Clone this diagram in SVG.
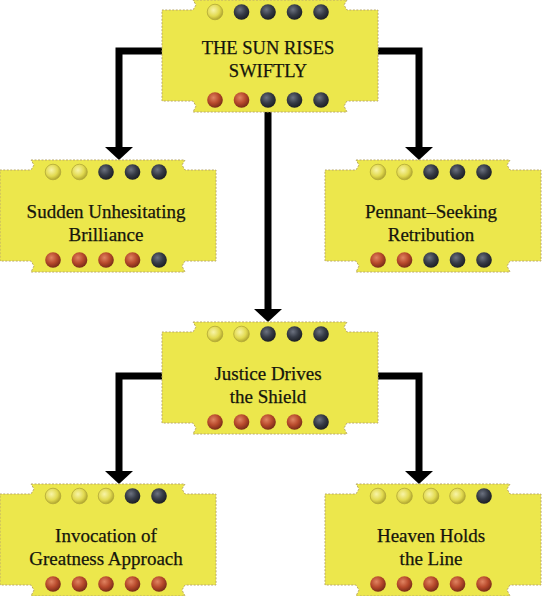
<svg xmlns="http://www.w3.org/2000/svg" xmlns:xlink="http://www.w3.org/1999/xlink" width="543" height="596" viewBox="0 0 543 596">
<style>
.shape{fill:#ece74c;stroke:#b9a86a;stroke-width:1;stroke-dasharray:2 1.5}
.lbl{font-family:"Liberation Serif","Times New Roman",serif;font-size:19px;fill:#15150c;text-anchor:middle;stroke:#15150c;stroke-width:0.25}
.cap{font-size:18.5px}
.conn{fill:none;stroke:#000;stroke-width:7;stroke-linejoin:miter}
</style>
<defs>
<radialGradient id="gy" cx="0.4" cy="0.38" r="0.65">
<stop offset="0" stop-color="#f8f4a8"/><stop offset="0.6" stop-color="#e2da50"/><stop offset="1" stop-color="#aca22c"/>
</radialGradient>
<radialGradient id="gd" cx="0.4" cy="0.35" r="0.65">
<stop offset="0" stop-color="#6c7280"/><stop offset="0.55" stop-color="#363b46"/><stop offset="1" stop-color="#1c1f25"/>
</radialGradient>
<radialGradient id="gr" cx="0.4" cy="0.35" r="0.65">
<stop offset="0" stop-color="#e08462"/><stop offset="0.55" stop-color="#b84a2c"/><stop offset="1" stop-color="#7a2c18"/>
</radialGradient>
<circle id="dy" r="7.8" fill="url(#gy)" stroke="#b2a838" stroke-width="0.8"/>
<circle id="dd" r="7.8" fill="url(#gd)"/>
<circle id="dr" r="7.8" fill="url(#gr)"/>
<path id="body" d="M31,0 L185,0 L182,5 L185,10 L216,10 L216,101 L185,101 L182,106 L185,112 L31,112 L34,106 L31,101 L0,101 L0,10 L31,10 L34,5 Z"/>
</defs>

<g id="connectors">
<path class="conn" d="M163,51 H119 V148"/>
<polygon points="105,147 133,147 119,160"/>
<path class="conn" d="M377,51 H419 V148"/>
<polygon points="405,147 433,147 419,160"/>
<path class="conn" d="M268,110 V310"/>
<polygon points="254,309 282,309 268,322"/>
<path class="conn" d="M163,376 H119 V472"/>
<polygon points="105,471 133,471 119,484"/>
<path class="conn" d="M377,376 H419 V472"/>
<polygon points="405,471 433,471 419,484"/>
</g>

<g id="n_top" transform="translate(162,0)">
<use xlink:href="#body" class="shape"/>
<use xlink:href="#dy" x="53" y="12"/><use xlink:href="#dd" x="79.5" y="12"/><use xlink:href="#dd" x="106" y="12"/><use xlink:href="#dd" x="132.5" y="12"/><use xlink:href="#dd" x="159" y="12"/>
<use xlink:href="#dr" x="53" y="100"/><use xlink:href="#dr" x="79.5" y="100"/><use xlink:href="#dd" x="106" y="100"/><use xlink:href="#dd" x="132.5" y="100"/><use xlink:href="#dd" x="159" y="100"/>
<text class="lbl cap" x="106" y="54">THE SUN RISES</text>
<text class="lbl cap" x="106" y="77">SWIFTLY</text>
</g>

<g id="n_sudden" transform="translate(0,160)">
<use xlink:href="#body" class="shape"/>
<use xlink:href="#dy" x="53" y="12"/><use xlink:href="#dy" x="79.5" y="12"/><use xlink:href="#dd" x="106" y="12"/><use xlink:href="#dd" x="132.5" y="12"/><use xlink:href="#dd" x="159" y="12"/>
<use xlink:href="#dr" x="53" y="100"/><use xlink:href="#dr" x="79.5" y="100"/><use xlink:href="#dr" x="106" y="100"/><use xlink:href="#dr" x="132.5" y="100"/><use xlink:href="#dd" x="159" y="100"/>
<text class="lbl" x="106" y="58">Sudden Unhesitating</text>
<text class="lbl" x="106" y="81">Brilliance</text>
</g>

<g id="n_pennant" transform="translate(325,160)">
<use xlink:href="#body" class="shape"/>
<use xlink:href="#dy" x="53" y="12"/><use xlink:href="#dy" x="79.5" y="12"/><use xlink:href="#dd" x="106" y="12"/><use xlink:href="#dd" x="132.5" y="12"/><use xlink:href="#dd" x="159" y="12"/>
<use xlink:href="#dr" x="53" y="100"/><use xlink:href="#dr" x="79.5" y="100"/><use xlink:href="#dd" x="106" y="100"/><use xlink:href="#dd" x="132.5" y="100"/><use xlink:href="#dd" x="159" y="100"/>
<text class="lbl" x="106" y="58">Pennant–Seeking</text>
<text class="lbl" x="106" y="81">Retribution</text>
</g>

<g id="n_justice" transform="translate(162,322)">
<use xlink:href="#body" class="shape"/>
<use xlink:href="#dy" x="53" y="12"/><use xlink:href="#dy" x="79.5" y="12"/><use xlink:href="#dd" x="106" y="12"/><use xlink:href="#dd" x="132.5" y="12"/><use xlink:href="#dd" x="159" y="12"/>
<use xlink:href="#dr" x="53" y="100"/><use xlink:href="#dr" x="79.5" y="100"/><use xlink:href="#dr" x="106" y="100"/><use xlink:href="#dr" x="132.5" y="100"/><use xlink:href="#dd" x="159" y="100"/>
<text class="lbl" x="106" y="58">Justice Drives</text>
<text class="lbl" x="106" y="81">the Shield</text>
</g>

<g id="n_invocation" transform="translate(0,484)">
<use xlink:href="#body" class="shape"/>
<use xlink:href="#dy" x="53" y="12"/><use xlink:href="#dy" x="79.5" y="12"/><use xlink:href="#dy" x="106" y="12"/><use xlink:href="#dd" x="132.5" y="12"/><use xlink:href="#dd" x="159" y="12"/>
<use xlink:href="#dr" x="53" y="100"/><use xlink:href="#dr" x="79.5" y="100"/><use xlink:href="#dr" x="106" y="100"/><use xlink:href="#dr" x="132.5" y="100"/><use xlink:href="#dr" x="159" y="100"/>
<text class="lbl" x="106" y="58">Invocation of</text>
<text class="lbl" x="106" y="81">Greatness Approach</text>
</g>

<g id="n_heaven" transform="translate(325,484)">
<use xlink:href="#body" class="shape"/>
<use xlink:href="#dy" x="53" y="12"/><use xlink:href="#dy" x="79.5" y="12"/><use xlink:href="#dy" x="106" y="12"/><use xlink:href="#dy" x="132.5" y="12"/><use xlink:href="#dd" x="159" y="12"/>
<use xlink:href="#dr" x="53" y="100"/><use xlink:href="#dr" x="79.5" y="100"/><use xlink:href="#dr" x="106" y="100"/><use xlink:href="#dr" x="132.5" y="100"/><use xlink:href="#dr" x="159" y="100"/>
<text class="lbl" x="106" y="58">Heaven Holds</text>
<text class="lbl" x="106" y="81">the Line</text>
</g>
</svg>
